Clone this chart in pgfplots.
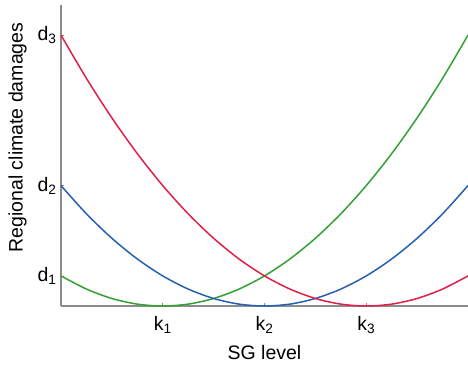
\documentclass[border=0pt]{standalone}
\usepackage{pgfplots}
\pgfplotsset{compat=1.18}
\usepackage{pgfplotstable}
\usetikzlibrary{calc}
\usepackage{fontspec}
\setmainfont{Liberation Sans}
\definecolor{cred}{RGB}{222,32,74}
\definecolor{cblue}{RGB}{38,96,176}
\definecolor{cgreen}{RGB}{50,160,50}
\definecolor{caxis}{RGB}{140,140,140}
\pgfplotstableread{
x green blue red
0 1 4 9
0.25 0.5625 3.0625 7.5625
0.5 0.25 2.25 6.25
0.75 0.0625 1.5625 5.0625
1 0 1 4
1.25 0.0625 0.5625 3.0625
1.5 0.25 0.25 2.25
1.75 0.5625 0.0625 1.5625
2 1 0 1
2.25 1.5625 0.0625 0.5625
2.5 2.25 0.25 0.25
2.75 3.0625 0.5625 0.0625
3 4 1 0
3.25 5.0625 1.5625 0.0625
3.5 6.25 2.25 0.25
3.75 7.5625 3.0625 0.5625
4 9 4 1
}\damages
\begin{document}
\begin{tikzpicture}[font=\fontsize{19.5bp}{23bp}\selectfont]
\begin{axis}[
  scale only axis,
  width=407bp, height=301bp,
  xmin=0, xmax=4, ymin=0, ymax=10,
  axis x line=bottom, axis y line=left,
  axis line style={-, caxis, line width=1.2bp},
  xtick={1,2,3}, xticklabels={k\textsubscript{1},k\textsubscript{2},k\textsubscript{3}},
  ytick={1,4,9}, yticklabels={d\textsubscript{1},d\textsubscript{2},d\textsubscript{3}},
  major tick length=3bp,
  tick style={caxis, line width=0.8bp},
  tick align=inside,
  xticklabel style={yshift=-7bp},
  yticklabel style={xshift=-1bp},
  xlabel={SG level}, ylabel={Regional climate damages},
  xlabel style={yshift=-5bp},
  ylabel style={yshift=4bp, xshift=18bp},
  clip=false,
]
\coordinate (sw) at (rel axis cs:0,0);
\coordinate (ne) at (rel axis cs:1,1);
\addplot[cgreen, line width=1.5bp, smooth] table[x=x, y=green] {\damages};
\addplot[cblue, line width=1.5bp, smooth] table[x=x, y=blue] {\damages};
\addplot[cred, line width=1.5bp, smooth] table[x=x, y=red] {\damages};
\end{axis}
\pgfresetboundingbox
\path[use as bounding box] ($(sw)+(-61bp,-64bp)$) rectangle ($(ne)+(0bp,5bp)$);
\end{tikzpicture}
\end{document}
